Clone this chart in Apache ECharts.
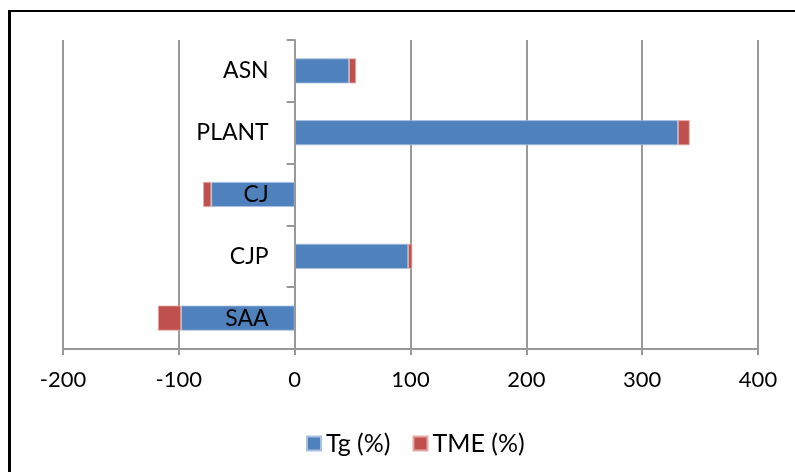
<!DOCTYPE html>
<html>
<head>
<meta charset="utf-8">
<script src="https://cdn.jsdelivr.net/npm/echarts@6/dist/echarts.min.js"></script>
<style>
html,body{margin:0;padding:0;background:#fff;}
#main{width:795px;height:472px;}
</style>
</head>
<body>
<div id="main"></div>
<script>
var categories = ['SAA', 'CJP', 'CJ', 'PLANT', 'ASN'];
var tgValues = [-98, 98, -72, 331, 47];
var tmeValues = [-20, 3.5, -7, 10, 6];
var xTicks = { min: -200, max: 400, interval: 100 };

var gridLeft = 63, gridRight = 37, chartW = 795;
var plotW = chartW - gridLeft - gridRight;
// place the category axis at x = 0 of the value axis
var zeroOffset = -plotW * (0 - xTicks.min) / (xTicks.max - xTicks.min);

var chart = echarts.init(document.getElementById('main'));
var font = 'Lato, "Open Sans", sans-serif';
chart.setOption({
  animation: false,
  backgroundColor: '#fff',
  graphic: [
    { type: 'line', shape: { x1: 8, y1: 11, x2: 795, y2: 11 }, style: { stroke: '#000', lineWidth: 2 } },
    { type: 'line', shape: { x1: 9.5, y1: 10, x2: 9.5, y2: 472 }, style: { stroke: '#000', lineWidth: 3 } }
  ],
  grid: { left: gridLeft, right: gridRight, top: 40, bottom: 123, containLabel: false, outerBoundsMode: 'none' },
  legend: {
    left: 301, top: 426,
    itemWidth: 14, itemHeight: 14, itemGap: 22,
    icon: 'rect',
    textStyle: { fontFamily: font, fontSize: 25, color: '#000' },
    data: ['Tg (%)', 'TME (%)']
  },
  xAxis: {
    type: 'value',
    min: xTicks.min, max: xTicks.max, interval: xTicks.interval,
    axisLine: { show: true, lineStyle: { color: '#999', width: 2 } },
    axisTick: { show: true, length: 6, lineStyle: { color: '#999', width: 2 } },
    splitLine: { show: true, lineStyle: { color: '#999', width: 2 } },
    axisLabel: { fontFamily: font, fontSize: 22, color: '#000', margin: 20 }
  },
  yAxis: {
    type: 'category',
    data: categories,
    z: 10,
    offset: zeroOffset,
    axisLine: { show: true, onZero: false, lineStyle: { color: '#999', width: 2 } },
    axisTick: { show: true, length: 8, lineStyle: { color: '#999', width: 2 } },
    axisLabel: { fontFamily: font, fontSize: 23, color: '#000', margin: 26 }
  },
  series: [
    {
      name: 'Tg (%)', type: 'bar', stack: 'total', barWidth: 25,
      itemStyle: { color: '#4F81BD', borderColor: '#A9C0E0', borderWidth: 0.8 },
      data: tgValues
    },
    {
      name: 'TME (%)', type: 'bar', stack: 'total', barWidth: 25,
      itemStyle: { color: '#C0504D', borderColor: '#E3A9A7', borderWidth: 0.8 },
      data: tmeValues
    }
  ]
});
</script>
</body>
</html>
